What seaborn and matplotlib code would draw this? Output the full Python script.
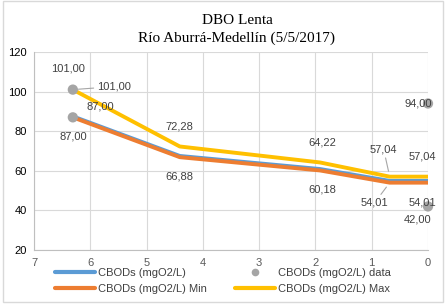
import numpy as np
import pandas as pd
import matplotlib
matplotlib.use("Agg")
import matplotlib.pyplot as plt
import seaborn as sns
from matplotlib.lines import Line2D
from matplotlib.patches import Rectangle

# -- data -----------------------------------------------------------------------
dist_km = [6.31, 4.41, 1.92, 0.68, 0.0]
cbod_model = [87.5, 67.5, 60.9, 54.9, 54.9]
cbod_min = [87.00, 66.88, 60.18, 54.01, 54.01]
cbod_max = [101.00, 72.28, 64.22, 57.04, 57.04]
data_km = [6.31, 6.31, 0.0, 0.0]
data_val = [101.00, 87.00, 94.00, 42.00]

C_BLUE, C_ORANGE, C_YELLOW, C_GRAY = "#5B9BD5", "#ED7D31", "#FFC000", "#A5A5A5"
TXT = "#404040"

df = pd.DataFrame({"km": dist_km, "model": cbod_model, "min": cbod_min, "max": cbod_max})
obs = pd.DataFrame({"km": data_km, "val": data_val})

sns.set_theme(style="white")
plt.rcParams["font.family"] = ["Liberation Sans", "DejaVu Sans"]

fig = plt.figure(figsize=(4.47, 3.06), dpi=100)
ax = fig.add_axes([34 / 447, 1 - 250 / 306, (428 - 34) / 447, (250 - 52) / 306])

# outer chart frame
fig.patches.append(Rectangle((3 / 447, 4 / 306), 440 / 447, 301 / 306, transform=fig.transFigure,
                             fill=False, edgecolor="#D9D9D9", linewidth=1, zorder=0))

sns.lineplot(data=df, x="km", y="model", sort=False, color=C_BLUE, lw=2.8, ax=ax, zorder=3)
sns.lineplot(data=df, x="km", y="min", sort=False, color=C_ORANGE, lw=2.8, ax=ax, zorder=4)
sns.lineplot(data=df, x="km", y="max", sort=False, color=C_YELLOW, lw=2.8, ax=ax, zorder=5)
sns.scatterplot(data=obs, x="km", y="val", color=C_GRAY, s=55, edgecolor="none", ax=ax,
                zorder=6, clip_on=False)

ax.set_xlim(7, 0)
ax.set_ylim(20, 120)
ax.set_xticks(range(0, 8))
ax.set_yticks(range(20, 121, 20))
ax.grid(True, color="#D9D9D9", linewidth=0.8)
for s in ["top", "right"]:
    ax.spines[s].set_visible(False)
for s in ["left", "bottom"]:
    ax.spines[s].set_color("#BFBFBF")
    ax.spines[s].set_linewidth(0.8)
ax.tick_params(axis="both", labelsize=8, colors="#595959", length=0)
ax.tick_params(axis="x", pad=6)
ax.tick_params(axis="y", pad=5, labelcolor="black")
ax.set_xlabel("")
ax.set_ylabel("")


def fmt(v):
    return f"{v:.2f}".replace(".", ",")


def label(x, y, dx, dy, leader=False):
    kw = dict(xy=(x, y), xytext=(dx, dy), textcoords="offset pixels", ha="center", va="center",
              fontsize=8, color=TXT, zorder=8, annotation_clip=False)
    if leader:
        kw["arrowprops"] = dict(arrowstyle="-", color="#A6A6A6", lw=0.8, shrinkA=0, shrinkB=4)
    ax.annotate(fmt(y), **kw)


# observed points
label(data_km[0], data_val[0], -5, 21)
label(data_km[1], data_val[1], 0, -19)
label(data_km[2], data_val[2], -10, 0)
label(data_km[3], data_val[3], -10, -13)

# max line
max_off = [(41, 3, True), (0, 20, False), (2, 20, False), (-6, 27, True), (-6, 20, False)]
for x, y, (dx, dy, ld) in zip(dist_km, cbod_max, max_off):
    label(x, y, dx, dy, ld)

# min line
min_off = [(27, 11, False), (0, -19, False), (2, -19, False), (-15, -20, True), (-6, -20, False)]
for x, y, (dx, dy, ld) in zip(dist_km, cbod_min, min_off):
    label(x, y, dx, dy, ld)

fig.text(237 / 447, 1 - 20 / 306, "DBO Lenta", ha="center", va="center", fontsize=11,
         family=["Liberation Serif", "DejaVu Serif"], color="black")
fig.text(237 / 447, 1 - 38 / 306, "Río Aburrá-Medellín (5/5/2017)", ha="center", va="center",
         fontsize=11, family=["Liberation Serif", "DejaVu Serif"], color="black")

handles = [
    Line2D([], [], color=C_BLUE, lw=3),
    Line2D([], [], color=C_ORANGE, lw=3),
    Line2D([], [], color=C_GRAY, lw=0, marker="o", markersize=5.5, markeredgewidth=0),
    Line2D([], [], color=C_YELLOW, lw=3),
]
names = ["CBODs (mgO2/L)", "CBODs (mgO2/L) Min", "CBODs (mgO2/L) data", "CBODs (mgO2/L) Max"]
fig.legend(handles, names, ncol=2, loc="center", bbox_to_anchor=(223 / 447, 1 - 281 / 306),
           frameon=False, fontsize=8, handlelength=3.6, handletextpad=0.2, columnspacing=2.6,
           labelspacing=0.55, labelcolor=TXT)

fig.savefig("out.png", dpi=100)
